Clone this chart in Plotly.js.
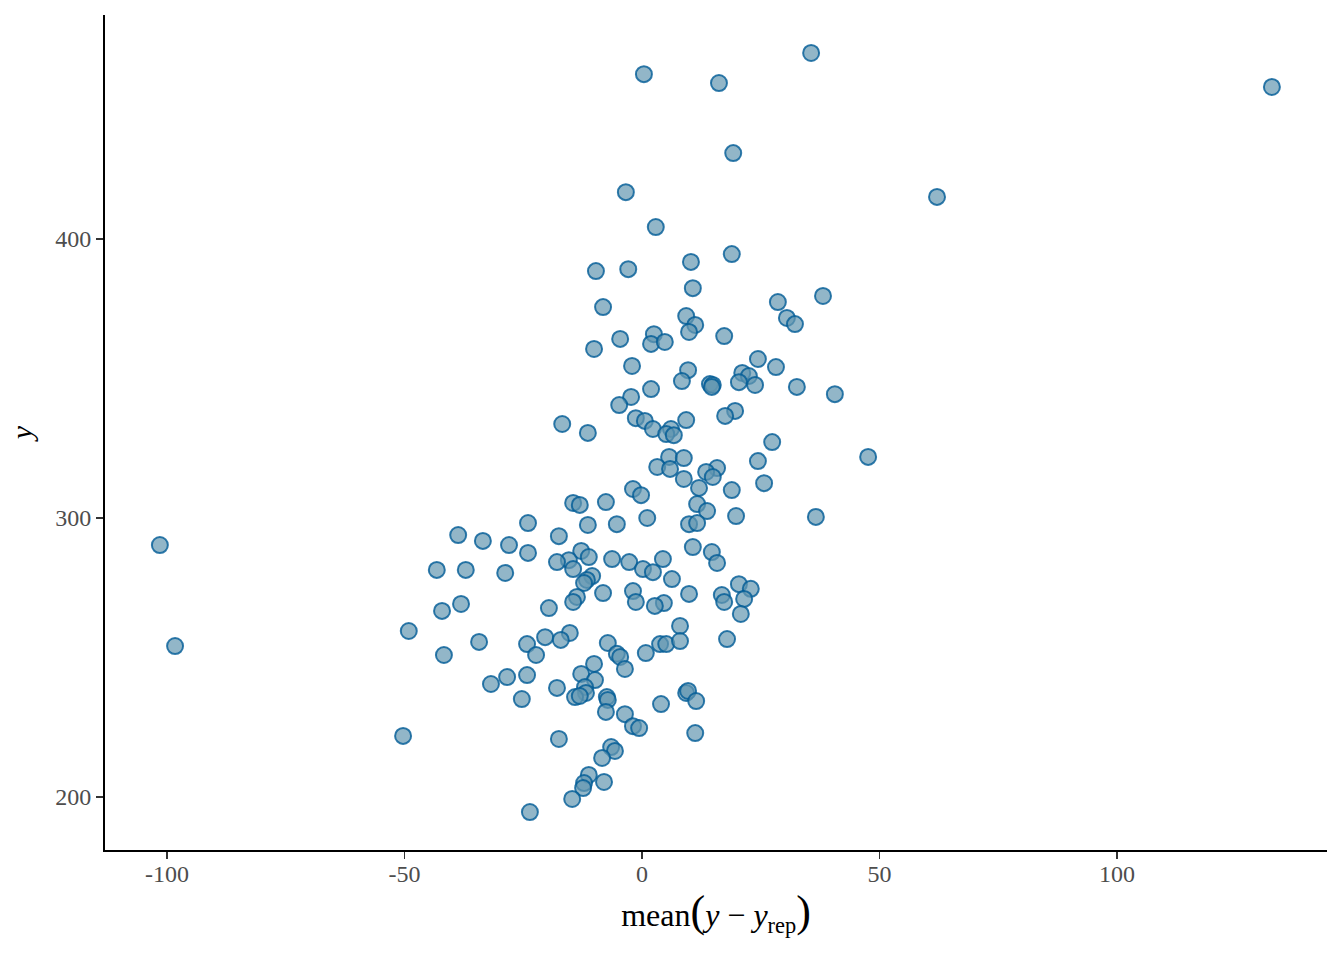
<!DOCTYPE html>
<html>
<head>
<meta charset="utf-8">
<script src="https://cdn.plot.ly/plotly-3.0.1.min.js"></script>
<style>
  html, body { margin: 0; padding: 0; background: #fff; }
  #chart { width: 1344px; height: 960px; }
</style>
</head>
<body>
<div id="chart"></div>
<script>
// average predictive error per observation vs observed y
const avgError = [
  35.6, 0.4, 16.2, 132.6, 19.2, -3.4, 62.1, 2.9,
  18.9, 10.3, -9.7, -2.9, 10.7, 28.6, 38.1, -8.2, 30.5, 9.3, 11.2, 32.2, 9.9, 17.3, -4.6, 2.5, 1.9, 4.8, -10.1,
  24.4, -2.1, 28.2, 9.7, 21.1, 22.5, 20.4, 8.4, 14.3, 14.9, 14.7, 23.8, 32.6, 1.9, 40.6, -2.3, -4.8,
  19.6, 17.5, -1.3, 0.6, 9.3, -16.8, 2.3, 6.1, 5.1, 6.7, -11.4, 27.4, 5.7, 8.8, 47.6, 24.4, 3.2, 15.8, 5.9, 13.5, 14.9, 8.8, 25.7,
  12.0, 18.9, -1.9, -0.2, -7.6, -14.5, -13.1, 11.6, 13.7, 1.1, 19.8, 36.6, -24.0, -11.4, -5.3, 9.9, 11.6,
  -38.7, -17.5, -33.5, -28.0, 10.7, -12.8, -24.0, 14.7, -15.4, -17.9, -11.2, -6.3, -2.7, 4.4, 15.8, -14.5, -43.2, -37.1, -28.8, 0.2, 2.3,
  -10.5, -11.6, -12.2, 6.3, 20.4, -1.9, -8.2, 16.8, 22.9, -13.7, 17.3, -1.3, 4.6, 2.7, 21.5, -14.5, 9.9, -38.1, -42.1, -19.6, 20.8,
  8.0, -15.2, -49.1, -20.4, -17.1, -34.3, -24.2, -7.2, 3.8, 5.1, 8.0, 17.9, -41.7, -22.3, 0.8, -5.3, -4.6, -10.1, -3.6,
  -12.8, -24.2, -28.4, -9.9, -31.8, -17.9, -12.0, -11.8, -14.1, -13.1, -7.4, -25.3, -7.2, 9.3, 9.7, 11.4, 4.0, -7.6, -3.6, -1.9, -0.6,
  -50.3, 11.2, -17.5, -6.5, -5.7, -8.4, -11.2, -12.2, -8.0, -12.4, -14.7, -23.6,
  -101.5, -98.3
];

const observedY = [
  466.7, 459.1, 455.9, 454.5, 430.8, 416.8, 415.1, 404.3,
  394.6, 391.8, 388.5, 389.2, 382.4, 377.4, 379.6, 375.6, 371.7, 372.4, 369.2, 369.5, 366.7, 365.2, 364.2, 365.9, 362.4, 363.1, 360.6,
  357.0, 354.5, 354.1, 353.0, 352.0, 350.9, 348.7, 349.1, 348.0, 347.7, 347.0, 347.7, 347.0, 346.2, 344.4, 343.4, 340.5,
  338.4, 336.6, 335.8, 334.8, 335.1, 333.7, 331.9, 331.9, 330.1, 329.7, 330.5, 327.2, 321.9, 321.5, 321.9, 320.4, 318.3, 317.9, 317.6, 316.5, 314.7, 314.0, 312.5,
  310.8, 310.0, 310.4, 308.2, 305.7, 305.4, 304.7, 305.0, 302.5, 300.0, 300.7, 300.4, 298.2, 297.5, 297.8, 297.8, 298.2,
  293.9, 293.5, 291.8, 290.3, 289.6, 288.2, 287.5, 287.8, 284.9, 284.2, 286.0, 285.3, 284.2, 285.3, 283.9, 281.7, 281.4, 281.4, 280.3, 281.7, 280.6,
  279.2, 277.8, 276.7, 278.1, 276.3, 273.8, 273.1, 272.4, 274.6, 271.7, 269.9, 269.9, 269.5, 268.5, 271.0, 269.9, 272.8, 269.2, 266.7, 267.7, 265.6,
  261.3, 258.8, 259.5, 257.3, 256.3, 255.6, 254.8, 255.2, 254.8, 254.8, 255.9, 256.6, 250.9, 250.9, 251.6, 251.3, 250.2, 247.7, 245.9,
  244.1, 243.7, 243.0, 241.9, 240.5, 239.1, 239.4, 237.3, 235.8, 236.2, 235.8, 235.1, 234.8, 237.3, 238.0, 234.4, 233.3, 230.5, 229.7, 225.4, 224.7,
  221.9, 222.9, 220.8, 217.9, 216.5, 214.0, 207.9, 205.0, 205.4, 203.2, 199.3, 194.6,
  290.3, 254.1
];

const xTicks = [-100, -50, 0, 50, 100];
const yTicks = [200, 300, 400];

const serif = "Liberation Serif, Times New Roman, serif";
const bigParen = (c) => '<span style="font-size:44px">' + c + '</span>';

const traces = [
  {
    x: avgError,
    y: observedY,
    type: "scatter",
    mode: "markers",
    hoverinfo: "none",
    marker: {
      size: 16,
      color: "rgba(100,151,177,0.7)",
      line: { width: 2, color: "rgba(0,91,150,0.8)" }
    },
    showlegend: false
  }
];

const layout = {
  width: 1344,
  height: 960,
  margin: { l: 105, r: 17, t: 15, b: 110, pad: 0 },
  paper_bgcolor: "#fff",
  plot_bgcolor: "#fff",
  showlegend: false,
  font: { family: serif, size: 24, color: "#4d4d4d" },
  xaxis: {
    range: [-113.05, 144.2],
    tickvals: xTicks,
    ticktext: xTicks.map(String),
    showgrid: false,
    zeroline: false,
    showline: true,
    linecolor: "#000",
    linewidth: 2,
    ticks: "outside",
    ticklen: 7,
    tickwidth: 1.5,
    tickcolor: "#333",
    ticklabelstandoff: -6,
    tickfont: { family: serif, size: 24, color: "#4d4d4d" },
    title: {
      text: "mean" + bigParen("(") + "<i>y</i> − <i>y</i><sub>rep</sub>" + bigParen(")"),
      font: { family: serif, size: 32, color: "#000" },
      standoff: 14
    }
  },
  yaxis: {
    range: [181, 480.3],
    tickvals: yTicks,
    ticktext: yTicks.map(String),
    showgrid: false,
    zeroline: false,
    showline: true,
    linecolor: "#000",
    linewidth: 2,
    ticks: "outside",
    ticklen: 7,
    tickwidth: 1.5,
    tickcolor: "#333",
    tickfont: { family: serif, size: 24, color: "#4d4d4d" },
    title: {
      text: "<i>y</i>",
      font: { family: serif, size: 30, color: "#000" },
      standoff: 14
    }
  }
};

Plotly.newPlot("chart", traces, layout, { displayModeBar: false, staticPlot: true });
</script>
</body>
</html>
